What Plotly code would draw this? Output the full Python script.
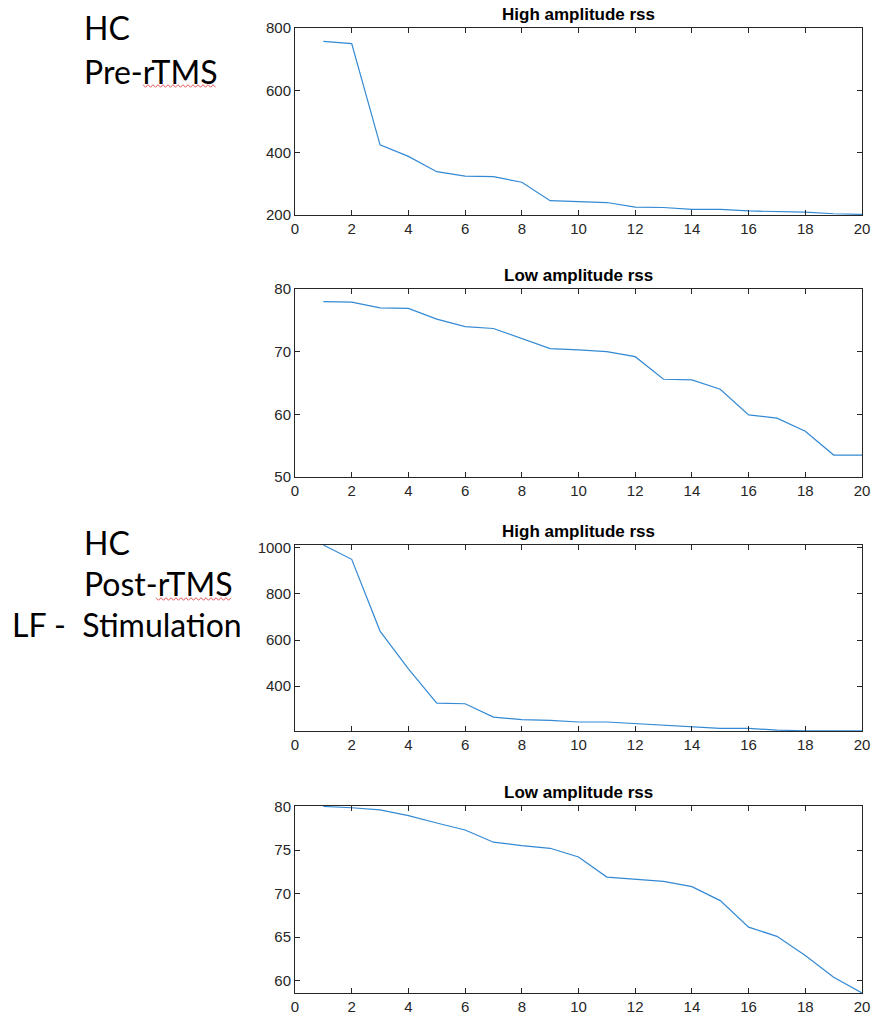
import plotly.graph_objects as go

# ---------------- data ----------------
ranks = list(range(1, 21))

hc_pre_high = [757, 750, 425, 388, 339, 325, 323, 305, 246, 243,
               240, 225, 224, 218, 218, 213, 212, 209, 204, 202]
hc_pre_low = [78.0, 77.9, 77.0, 76.9, 75.2, 74.0, 73.7, 72.1, 70.5, 70.3,
              70.0, 69.2, 65.6, 65.5, 64.0, 59.9, 59.4, 57.3, 53.5, 53.5]
hc_post_high = [1012, 950, 639, 475, 327, 324, 266, 255, 252, 245,
                245, 238, 228, 223, 217, 217, 210, 207, 207, 207]
hc_post_low = [80.0, 79.85, 79.6, 78.95, 78.1, 77.3, 75.9, 75.5, 75.2, 74.2,
               71.9, 71.65, 71.4, 70.8, 69.2, 66.15, 65.1, 62.9, 60.4, 58.6]

titles = ["High amplitude rss", "Low amplitude rss",
          "High amplitude rss", "Low amplitude rss"]
series = [hc_pre_high, hc_pre_low, hc_post_high, hc_post_low]
y_ranges = [[200, 800], [50, 80], [206, 1012], [58.6, 80.05]]
y_ticks = [[200, 400, 600, 800], [50, 60, 70, 80],
           [400, 600, 800, 1000], [60, 65, 70, 75, 80]]
x_ticks = list(range(0, 21, 2))

# ---------------- layout geometry (window pixels) ----------------
W, H = 871, 1016
X_LEFT, X_RIGHT = 295, 862
panels_px = [(28, 215), (289, 477), (545, 731), (806, 993)]  # (top, bottom)

def px(x):
    return x / W

def py(y):
    return 1 - y / H

AX_COLOR = "#262626"
LINE_COLOR = "#3389D3"

fig = go.Figure()
layout = dict(
    width=W, height=H,
    margin=dict(l=0, r=0, t=0, b=0, pad=0),
    paper_bgcolor="white", plot_bgcolor="white",
    showlegend=False,
    annotations=[], shapes=[],
)

for i, (vals, ttl, yr, yt, (top, bot)) in enumerate(zip(series, titles, y_ranges, y_ticks, panels_px)):
    n = "" if i == 0 else str(i + 1)
    fig.add_trace(go.Scatter(x=ranks, y=vals, mode="lines",
                             line=dict(color=LINE_COLOR, width=1.2),
                             xaxis="x" + n, yaxis="y" + n, cliponaxis=True))
    axis_common = dict(showgrid=False, zeroline=False, showline=True, mirror="ticks",
                       linecolor=AX_COLOR, linewidth=1, ticks="inside", ticklen=5,
                       tickcolor=AX_COLOR, automargin=False, ticklabeloverflow="allow",
                       tickfont=dict(family="Liberation Sans, Arial", size=15, color=AX_COLOR))
    layout["xaxis" + n] = dict(domain=[px(X_LEFT), px(X_RIGHT)], range=[0, 20],
                               tickvals=x_ticks, anchor="y" + n, **axis_common)
    layout["yaxis" + n] = dict(domain=[py(bot), py(top)], range=yr,
                               tickvals=yt, anchor="x" + n, **axis_common)
    layout["annotations"].append(dict(
        text="<b>" + ttl + "</b>", xref="paper", yref="paper",
        x=px((X_LEFT + X_RIGHT) / 2), y=py(top - 2),
        xanchor="center", yanchor="bottom", showarrow=False,
        font=dict(family="Liberation Sans, Arial", size=17, color="black")))

# left-side slide labels
LBL_FONT = dict(family="Lato, Open Sans", size=32, color="black")
labels = [("HC", 82, 28), ("Pre-rTMS", 82, 72),
          ("HC", 82, 542), ("Post-rTMS", 82, 583), ("LF -\u00a0 Stimulation", 10, 624)]
for txt, xl, yc in labels:
    layout["annotations"].append(dict(
        text=txt, xref="paper", yref="paper", x=px(xl), y=py(yc),
        xanchor="left", yanchor="middle", showarrow=False, font=LBL_FONT))

# spell-check wavy underlines
def wavy(x0, x1, y, amp=1.3, step=2.5):
    pts = []
    x = x0
    k = 0
    while x <= x1:
        yy = y + (amp if k % 2 else -amp)
        pts.append((px(x), py(yy)))
        x += step
        k += 1
    return "M " + " L ".join(f"{a:.5f},{b:.5f}" for a, b in pts)

for x0, x1, yy in [(143, 217, 86), (156, 232, 599)]:
    layout["shapes"].append(dict(type="path", xref="paper", yref="paper",
                                 path=wavy(x0, x1, yy), line=dict(color="#E03030", width=0.8)))

fig.update_layout(**layout)
fig.write_html("out.html", config={"displayModeBar": False},
               post_script="document.body.style.margin='0';document.body.style.overflow='hidden';")
